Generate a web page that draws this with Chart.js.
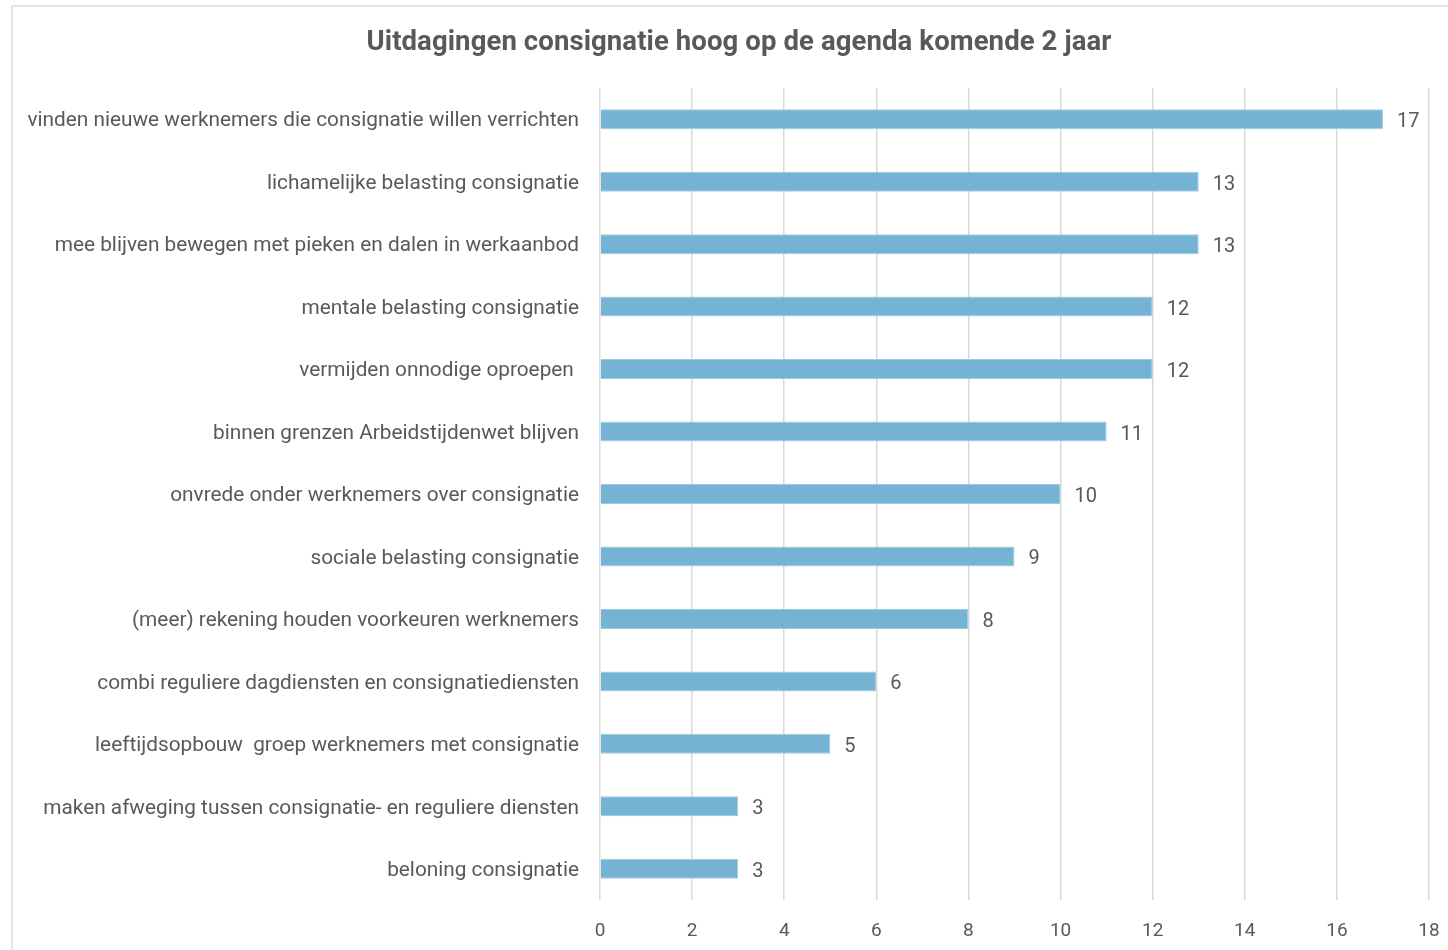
<!DOCTYPE html>
<html>
<head>
<meta charset="utf-8">
<script src="https://cdn.jsdelivr.net/npm/chart.js@4"></script>
<style>
html,body{margin:0;padding:0;background:#fff;overflow:hidden;width:1448px;height:950px;}
#frame{position:absolute;left:11px;top:5px;width:1500px;height:1000px;border-left:2px solid #e4e4e4;border-top:2px solid #e4e4e4;}
#wrap{position:absolute;left:0;top:0;width:1478px;height:950px;}
</style>
</head>
<body>
<div id="frame"></div>
<div id="wrap"><canvas id="c"></canvas></div>
<script>
const titleText = "Uitdagingen consignatie hoog op de agenda komende 2 jaar";
const categories = [
  "vinden nieuwe werknemers die consignatie willen verrichten",
  "lichamelijke belasting consignatie",
  "mee blijven bewegen met pieken en dalen in werkaanbod",
  "mentale belasting consignatie",
  "vermijden onnodige oproepen ",
  "binnen grenzen Arbeidstijdenwet blijven",
  "onvrede onder werknemers over consignatie",
  "sociale belasting consignatie",
  "(meer) rekening houden voorkeuren werknemers",
  "combi reguliere dagdiensten en consignatiediensten",
  "leeftijdsopbouw  groep werknemers met consignatie",
  "maken afweging tussen consignatie- en reguliere diensten",
  "beloning consignatie"
];
const values = [17, 13, 13, 12, 12, 11, 10, 9, 8, 6, 5, 3, 3];
const xTicks = [0, 2, 4, 6, 8, 10, 12, 14, 16, 18];

const textColor = '#595959';

const titlePlugin = {
  id: 'customTitle',
  afterDraw(chart) {
    const ctx = chart.ctx;
    ctx.save();
    ctx.font = 'bold 27.5px Roboto';
    try { ctx.letterSpacing = '0.1px'; } catch(e) {}
    ctx.fillStyle = textColor;
    ctx.textAlign = 'center';
    ctx.textBaseline = 'middle';
    ctx.fillText(titleText, 739, 43);
    ctx.restore();
  }
};

const labelPlugin = {
  id: 'barLabels',
  afterDatasetsDraw(chart) {
    const ctx = chart.ctx;
    const meta = chart.getDatasetMeta(0);
    ctx.save();
    ctx.font = '20px Roboto';
    ctx.fillStyle = textColor;
    ctx.textAlign = 'left';
    ctx.textBaseline = 'middle';
    meta.data.forEach((bar, i) => {
      ctx.fillText(String(values[i]), bar.x + 14, bar.y + 3);
    });
    ctx.restore();
  }
};

new Chart(document.getElementById('c'), {
  type: 'bar',
  data: {
    labels: categories,
    datasets: [{
      data: values,
      backgroundColor: '#74b3d4',
      borderColor: '#9fcbe2',
      borderWidth: 1,
      barPercentage: 0.64,
      categoryPercentage: 0.5
    }]
  },
  options: {
    indexAxis: 'y',
    responsive: true,
    maintainAspectRatio: false,
    animation: false,
    layout: { padding: { left: 0, right: 49, top: 88, bottom: 0 } },
    plugins: {
      legend: { display: false },
      title: { display: false },
      tooltip: { enabled: false }
    },
    scales: {
      x: {
        min: 0, max: 18,
        afterBuildTicks(scale) { scale.ticks = xTicks.map(v => ({ value: v })); },
        grid: { color: '#d9d9d9', lineWidth: 1.5, drawTicks: false },
        border: { display: false },
        ticks: { color: textColor, font: { family: 'Roboto', size: 19 }, padding: 20 },
        afterFit(scale) { scale.height = 50; }
      },
      y: {
        grid: { display: false, drawTicks: false },
        border: { display: false },
        ticks: { color: textColor, font: { family: 'Roboto', size: 20.8 }, padding: 21, autoSkip: false, labelOffset: 2 },
        afterFit(scale) { scale.width = 600; }
      }
    }
  },
  plugins: [titlePlugin, labelPlugin]
});
</script>
</body>
</html>
